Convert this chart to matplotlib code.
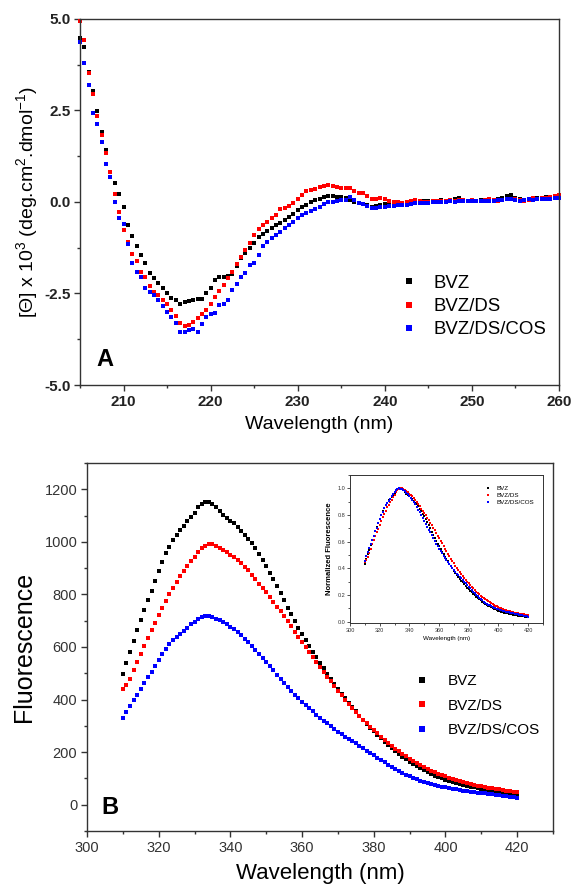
import numpy as np
import matplotlib
matplotlib.use("Agg")
import matplotlib.pyplot as plt
from matplotlib.ticker import MultipleLocator

plt.rcParams['font.family'] = ['Liberation Sans', 'DejaVu Sans']
plt.rcParams['mathtext.fontset'] = 'custom'
plt.rcParams['mathtext.rm'] = 'Liberation Sans'
plt.rcParams['mathtext.it'] = 'Liberation Sans:italic'
plt.rcParams['mathtext.bf'] = 'Liberation Sans:bold'

labels = ["BVZ", "BVZ/DS", "BVZ/DS/COS"]
colors = ["#000000", "#ff0000", "#0000ff"]

# panel A: CD spectra, 205-260 nm every 0.5 nm
cd_wl = np.arange(205.0, 260.01, 0.5)
cd_bvz = [4.49, 4.23, 3.55, 3.04, 2.49, 1.92, 1.42, 0.83, 0.53, 0.21,
          -0.15, -0.63, -0.93, -1.19, -1.45, -1.68, -1.94, -2.09, -2.21, -2.36,
          -2.50, -2.61, -2.67, -2.78, -2.73, -2.70, -2.67, -2.64, -2.64, -2.50,
          -2.36, -2.14, -2.06, -2.05, -2.03, -1.97, -1.75, -1.52, -1.39, -1.27,
          -1.13, -0.97, -0.88, -0.80, -0.70, -0.63, -0.57, -0.50, -0.42, -0.33,
          -0.22, -0.14, -0.07, 0.00, 0.05, 0.08, 0.13, 0.15, 0.16, 0.14,
          0.13, 0.11, 0.06, 0.01, -0.02, -0.05, -0.09, -0.13, -0.10, -0.07,
          -0.05, -0.04, -0.05, -0.03, -0.02, 0.00, -0.01, 0.02, 0.01, 0.03,
          0.02, 0.04, 0.03, 0.05, 0.04, 0.06, 0.08, 0.10, 0.06, 0.04,
          0.05, 0.03, 0.05, 0.04, 0.06, 0.05, 0.07, 0.12, 0.17, 0.20,
          0.12, 0.08, 0.06, 0.09, 0.10, 0.12, 0.11, 0.13, 0.12, 0.14,
          0.15]
cd_bvz_ds = [4.95, 4.43, 3.52, 2.94, 2.36, 1.83, 1.33, 0.81, 0.22, -0.28,
             -0.77, -1.10, -1.42, -1.60, -1.91, -2.05, -2.30, -2.46, -2.55, -2.67,
             -2.80, -2.95, -3.12, -3.30, -3.40, -3.37, -3.29, -3.18, -3.06, -2.94,
             -2.78, -2.60, -2.42, -2.26, -2.08, -1.90, -1.70, -1.50, -1.32, -1.11,
             -0.90, -0.74, -0.63, -0.54, -0.45, -0.36, -0.20, -0.16, -0.12, -0.03,
             0.08, 0.20, 0.29, 0.33, 0.35, 0.41, 0.44, 0.46, 0.45, 0.41,
             0.37, 0.37, 0.39, 0.30, 0.25, 0.24, 0.15, 0.07, 0.07, 0.10,
             0.07, 0.04, 0.01, -0.01, -0.02, 0.00, 0.04, 0.06, 0.02, 0.00,
             0.01, 0.03, 0.02, 0.04, 0.03, 0.05, 0.04, 0.06, 0.05, 0.03,
             0.06, 0.04, 0.02, 0.05, 0.07, 0.05, 0.04, 0.06, 0.08, 0.07,
             0.09, 0.05, 0.03, 0.06, 0.10, 0.08, 0.12, 0.10, 0.14, 0.17,
             0.19]
cd_bvz_ds_cos = [4.38, 3.79, 3.20, 2.42, 2.12, 1.65, 1.03, 0.67, 0.01, -0.45,
                 -0.60, -1.15, -1.66, -1.91, -2.06, -2.34, -2.46, -2.55, -2.68, -2.85,
                 -3.00, -3.14, -3.31, -3.55, -3.55, -3.51, -3.47, -3.54, -3.33, -3.14,
                 -3.05, -3.03, -2.82, -2.79, -2.68, -2.41, -2.23, -2.06, -1.94, -1.71,
                 -1.66, -1.45, -1.21, -1.09, -0.99, -0.90, -0.81, -0.72, -0.63, -0.54,
                 -0.45, -0.36, -0.29, -0.24, -0.20, -0.14, -0.06, 0.00, 0.01, 0.03,
                 0.05, 0.06, 0.13, 0.06, -0.02, -0.06, -0.12, -0.16, -0.17, -0.13,
                 -0.13, -0.11, -0.12, -0.09, -0.08, -0.07, -0.06, -0.04, -0.03, -0.04,
                 -0.02, -0.01, 0.00, -0.01, 0.01, 0.02, 0.00, 0.03, 0.02, 0.04,
                 0.03, 0.02, 0.04, 0.03, 0.02, 0.04, 0.05, 0.06, 0.08, 0.09,
                 0.05, 0.04, 0.06, 0.07, 0.05, 0.08, 0.07, 0.09, 0.08, 0.10,
                 0.11]

# panel B: fluorescence emission, 310-420 nm every 1 nm
fl_wl = np.arange(310, 421, 1)
fl_bvz = [498, 539, 580, 621, 664, 703, 741, 779, 814, 851,
          888, 923, 956, 980, 1006, 1027, 1046, 1061, 1078, 1094,
          1110, 1132, 1144, 1150, 1150, 1145, 1133, 1118, 1104, 1092,
          1081, 1070, 1056, 1040, 1026, 1012, 996, 976, 953, 931,
          908, 882, 857, 831, 804, 777, 750, 724, 699, 674,
          650, 627, 604, 582, 561, 540, 519, 499, 479, 460,
          441, 423, 405, 388, 371, 355, 339, 323, 308, 293,
          279, 265, 252, 239, 227, 215, 204, 193, 183, 173,
          164, 155, 147, 139, 131, 124, 117, 111, 105, 100,
          95, 91, 87, 83, 79, 75, 72, 69, 66, 63,
          60, 58, 56, 53, 51, 49, 47, 45, 43, 41,
          39]
fl_bvz_ds = [440, 455, 480, 511, 542, 574, 605, 636, 666, 692,
             722, 750, 776, 801, 825, 849, 869, 889, 907, 926,
             944, 961, 975, 986, 991, 990, 985, 978, 968, 960,
             951, 943, 932, 920, 906, 891, 874, 857, 841, 825,
             808, 790, 773, 754, 736, 716, 698, 678, 657, 638,
             619, 600, 581, 562, 542, 524, 505, 487, 469, 451,
             434, 417, 400, 384, 368, 352, 338, 324, 310, 297,
             284, 271, 259, 247, 235, 224, 213, 203, 193, 184,
             175, 167, 159, 151, 144, 137, 130, 124, 118, 113,
             108, 103, 98, 94, 90, 86, 82, 79, 76, 73,
             70, 67, 64, 62, 60, 58, 56, 54, 52, 50,
             48]
fl_bvz_ds_cos = [328, 352, 375, 397, 418, 440, 463, 485, 506, 529,
                 550, 572, 592, 610, 626, 638, 651, 662, 674, 686,
                 695, 706, 714, 717, 716, 713, 707, 701, 694, 687,
                 677, 667, 656, 644, 632, 618, 603, 588, 573, 558,
                 542, 527, 511, 495, 480, 464, 448, 433, 419, 405,
                 391, 379, 367, 355, 343, 331, 320, 309, 298, 288,
                 278, 268, 259, 250, 241, 233, 225, 215, 206, 197,
                 188, 179, 170, 161, 152, 144, 136, 128, 121, 114,
                 108, 102, 97, 92, 87, 83, 79, 75, 72, 69,
                 66, 63, 61, 58, 56, 54, 52, 50, 48, 46,
                 44, 43, 41, 40, 38, 37, 35, 33, 31, 29,
                 27]

cd_series = [cd_bvz, cd_bvz_ds, cd_bvz_ds_cos]
fl_series = [fl_bvz, fl_bvz_ds, fl_bvz_ds_cos]

spine_col = "#333333"


def style_axes(ax, lw=1.0):
    for s in ax.spines.values():
        s.set_color(spine_col)
        s.set_linewidth(lw)
    ax.tick_params(which='both', direction='out', top=False, right=False, colors=spine_col)


fig = plt.figure(figsize=(5.73, 8.90), dpi=100)

# ---- panel A ----
axA = fig.add_axes([0.1396, 0.5674, 0.836, 0.4113])
for ys, c, lab in zip(cd_series, colors, labels):
    axA.plot(cd_wl, ys, ls='none', marker='s', ms=3.3, mew=0, color=c, label=lab, clip_on=False)
axA.set_xlim(205, 260)
axA.set_ylim(-5, 5)
axA.xaxis.set_minor_locator(MultipleLocator(5))
axA.yaxis.set_major_locator(MultipleLocator(2.5))
axA.yaxis.set_minor_locator(MultipleLocator(1.25))
axA.set_xticks([210, 220, 230, 240, 250, 260])
style_axes(axA)
axA.tick_params(which='major', length=4, width=1.0, labelsize=11, pad=3)
axA.tick_params(which='minor', length=2.5, width=1.0)
axA.yaxis.set_major_formatter(matplotlib.ticker.FormatStrFormatter('%.1f'))
for t in axA.get_xticklabels() + axA.get_yticklabels():
    t.set_fontweight('bold')
    t.set_color('#222222')
axA.set_xlabel("Wavelength (nm)", fontsize=14, labelpad=5)
axA.set_ylabel(r"[Θ] x 10$^3$ (deg.cm$^2$.dmol$^{-1}$)", fontsize=14, labelpad=3)
axA.text(0.035, 0.07, "A", transform=axA.transAxes, fontsize=17, fontweight='bold', ha='left', va='center')
axA.legend(loc='upper left', bbox_to_anchor=(0.656, 0.326), frameon=False, fontsize=13.4,
           handlelength=0.6, handletextpad=1.0, labelspacing=0.33, borderpad=0,
           markerscale=1.2, numpoints=1)

# ---- panel B ----
axB = fig.add_axes([0.1518, 0.0663, 0.8133, 0.4135])
for ys, c, lab in zip(fl_series, colors, labels):
    axB.plot(fl_wl, ys, ls='none', marker='s', ms=3.5, mew=0, color=c, label=lab)
axB.set_xlim(300, 430)
axB.set_ylim(-100, 1300)
axB.set_xticks([300, 320, 340, 360, 380, 400, 420])
axB.xaxis.set_minor_locator(MultipleLocator(10))
axB.set_yticks([0, 200, 400, 600, 800, 1000, 1200])
axB.yaxis.set_minor_locator(MultipleLocator(100))
style_axes(axB)
axB.tick_params(which='major', length=4, width=1.0, labelsize=10.5, pad=3)
axB.tick_params(which='minor', length=2.5, width=1.0)
axB.set_xlabel("Wavelength (nm)", fontsize=16, labelpad=6)
axB.set_ylabel("Fluorescence", fontsize=18, labelpad=6)
axB.text(0.03, 0.065, "B", transform=axB.transAxes, fontsize=17, fontweight='bold', ha='left', va='center')
axB.legend(loc='upper left', bbox_to_anchor=(0.692, 0.447), frameon=False, fontsize=11,
           handlelength=0.6, handletextpad=1.4, labelspacing=0.68, borderpad=0,
           markerscale=1.1, numpoints=1)

# ---- inset: normalized fluorescence ----
axI = fig.add_axes([0.6108, 0.3000, 0.3368, 0.1663])
for ys, c, lab in zip(fl_series, colors, labels):
    arr = np.array(ys, dtype=float)
    axI.plot(fl_wl, arr / arr.max(), ls='none', marker='s', ms=1.6, mew=0, color=c, label=lab)
axI.set_xlim(300, 430)
axI.set_ylim(-0.01, 1.1)
axI.set_xticks([300, 320, 340, 360, 380, 400, 420])
axI.xaxis.set_minor_locator(MultipleLocator(10))
axI.set_yticks([0.0, 0.2, 0.4, 0.6, 0.8, 1.0])
axI.yaxis.set_minor_locator(MultipleLocator(0.1))
axI.yaxis.set_major_formatter(matplotlib.ticker.FormatStrFormatter('%.1f'))
style_axes(axI, lw=0.7)
axI.tick_params(which='major', length=2, width=0.6, labelsize=4, pad=1.5)
axI.tick_params(which='minor', length=1.2, width=0.6)
axI.set_xlabel("Wavelength (nm)", fontsize=4.5, labelpad=2)
axI.set_ylabel("Normalized Fluorescence", fontsize=5.5, fontweight='bold', labelpad=3)
axI.legend(loc='upper right', bbox_to_anchor=(0.97, 0.95), frameon=False, fontsize=4.5,
           handlelength=0.6, handletextpad=1.0, labelspacing=0.3, borderpad=0,
           markerscale=1.2, numpoints=1)

fig.savefig("out.png", dpi=100)
